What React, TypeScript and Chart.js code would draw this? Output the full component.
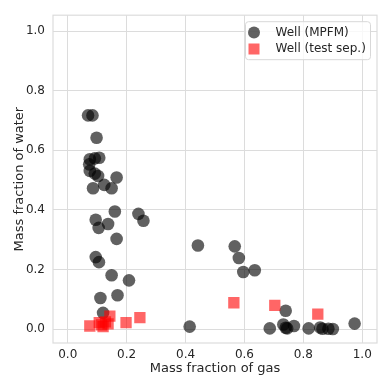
import React, { useEffect, useRef } from "react";
import { Chart, registerables } from "chart.js";

Chart.register(...registerables);

const mpfmGas = [
  0.069, 0.084, 0.098, 0.075, 0.092, 0.107, 0.073, 0.075, 0.092, 0.103, 0.166, 0.086, 0.124, 0.149,
  0.160, 0.240, 0.257, 0.095, 0.105, 0.137, 0.166, 0.095, 0.106, 0.149, 0.208, 0.111, 0.169, 0.120,
  0.442, 0.567, 0.581, 0.596, 0.635, 0.414, 0.686, 0.740, 0.732, 0.740, 0.745, 0.768, 0.818, 0.857,
  0.865, 0.885, 0.900, 0.974,
];
const mpfmWater = [
  0.717, 0.717, 0.642, 0.570, 0.573, 0.575, 0.553, 0.531, 0.522, 0.514, 0.509, 0.473, 0.484, 0.473,
  0.395, 0.387, 0.364, 0.367, 0.340, 0.353, 0.303, 0.242, 0.225, 0.181, 0.164, 0.105, 0.114, 0.055,
  0.281, 0.278, 0.239, 0.192, 0.198, 0.009, 0.003, 0.062, 0.016, 0.005, 0.003, 0.011, 0.003, 0.006,
  0.002, 0.002, 0.001, 0.019,
];
const sepGas = [0.075, 0.107, 0.120, 0.115, 0.128, 0.137, 0.143, 0.198, 0.245, 0.564, 0.703, 0.849];
const sepWater = [0.011, 0.022, 0.009, 0.015, 0.025, 0.018, 0.044, 0.022, 0.039, 0.089, 0.080, 0.051];

const xTicks = [0, 0.2, 0.4, 0.6, 0.8, 1.0];
const yTicks = [0, 0.2, 0.4, 0.6, 0.8, 1.0];
const seriesNames = ["Well (MPFM)", "Well (test sep.)"];
const xTitle = "Mass fraction of gas";
const yTitle = "Mass fraction of water";

const FONT = "'DejaVu Sans', sans-serif";
const TEXT = "#262626";
const GRID = "#dcdcdc";
const C_MPFM = "rgba(0,0,0,0.62)";
const C_SEP = "rgba(255,0,0,0.6)";

const framePlugin = {
  id: "frameLegend",
  afterDraw(chart: any) {
    const { ctx, chartArea } = chart;
    ctx.save();
    ctx.strokeStyle = GRID;
    ctx.lineWidth = 1.2;
    ctx.strokeRect(chartArea.left, chartArea.top, chartArea.right - chartArea.left, chartArea.bottom - chartArea.top);
    // legend box
    const w = 125, h = 38;
    const x = chartArea.right - 6.5 - w;
    const y = chartArea.top + 6.5;
    const r = 3;
    ctx.beginPath();
    ctx.moveTo(x + r, y);
    ctx.lineTo(x + w - r, y);
    ctx.quadraticCurveTo(x + w, y, x + w, y + r);
    ctx.lineTo(x + w, y + h - r);
    ctx.quadraticCurveTo(x + w, y + h, x + w - r, y + h);
    ctx.lineTo(x + r, y + h);
    ctx.quadraticCurveTo(x, y + h, x, y + h - r);
    ctx.lineTo(x, y + r);
    ctx.quadraticCurveTo(x, y, x + r, y);
    ctx.closePath();
    ctx.fillStyle = "rgba(255,255,255,0.8)";
    ctx.fill();
    ctx.strokeStyle = "#d8d8d8";
    ctx.lineWidth = 1;
    ctx.stroke();
    // entries
    const mx = x + 8.5;
    const y1 = y + 10.7;
    const y2 = y + 27.3;
    ctx.fillStyle = C_MPFM;
    ctx.beginPath();
    ctx.arc(mx, y1, 6, 0, Math.PI * 2);
    ctx.fill();
    ctx.fillStyle = C_SEP;
    ctx.fillRect(mx - 5.5, y2 - 5.5, 11, 11);
    ctx.fillStyle = TEXT;
    ctx.font = "12px " + FONT;
    ctx.textBaseline = "middle";
    ctx.textAlign = "left";
    ctx.fillText(seriesNames[0], x + 30, y1);
    ctx.fillText(seriesNames[1], x + 30, y2);
    ctx.restore();
  },
};

export default function App() {
  const ref = useRef<HTMLCanvasElement>(null);
  useEffect(() => {
    if (!ref.current) return;
    const chart = new Chart(ref.current, {
      type: "scatter",
      data: {
        datasets: [
          {
            label: seriesNames[0],
            data: mpfmGas.map((g, i) => ({ x: g, y: mpfmWater[i] })),
            pointStyle: "circle",
            pointRadius: 6.3,
            backgroundColor: C_MPFM,
            borderWidth: 0,
            order: 2,
          },
          {
            label: seriesNames[1],
            data: sepGas.map((g, i) => ({ x: g, y: sepWater[i] })),
            pointStyle: "rect",
            pointRadius: 8,
            backgroundColor: C_SEP,
            borderWidth: 0,
            order: 1,
          },
        ],
      },
      options: {
        animation: false,
        responsive: false,
        layout: { padding: { top: 13, right: 13, left: 0, bottom: 0 } },
        plugins: { legend: { display: false }, tooltip: { enabled: false } },
        scales: {
          x: {
            type: "linear",
            min: -0.05,
            max: 1.05,
            afterBuildTicks: (s: any) => {
              s.ticks = xTicks.map((v) => ({ value: v }));
            },
            afterFit: (s: any) => {
              s.height = 47;
            },
            ticks: {
              callback: (v: any) => Number(v).toFixed(1),
              color: TEXT,
              font: { family: FONT, size: 12 },
              padding: 5,
              maxRotation: 0,
            },
            grid: { color: GRID, lineWidth: 1, drawTicks: false },
            border: { display: false },
            title: {
              display: true,
              text: xTitle,
              color: TEXT,
              font: { family: FONT, size: 13 },
              padding: { top: 0, bottom: 14 },
            },
          },
          y: {
            type: "linear",
            min: -0.046,
            max: 1.053,
            afterBuildTicks: (s: any) => {
              s.ticks = yTicks.map((v) => ({ value: v }));
            },
            afterFit: (s: any) => {
              s.width = 53;
            },
            ticks: {
              callback: (v: any) => Number(v).toFixed(1),
              color: TEXT,
              font: { family: FONT, size: 12 },
              padding: 8,
            },
            grid: { color: GRID, lineWidth: 1, drawTicks: false },
            border: { display: false },
            title: {
              display: true,
              text: yTitle,
              color: TEXT,
              font: { family: FONT, size: 13 },
              padding: { top: 12, bottom: 0 },
            },
          },
        },
      },
      plugins: [framePlugin],
    });
    return () => chart.destroy();
  }, []);
  return (
    <div style={{ position: "fixed", left: 0, top: 0, width: 390, height: 390, background: "#fff" }}>
      <canvas ref={ref} width={390} height={390} />
    </div>
  );
}
